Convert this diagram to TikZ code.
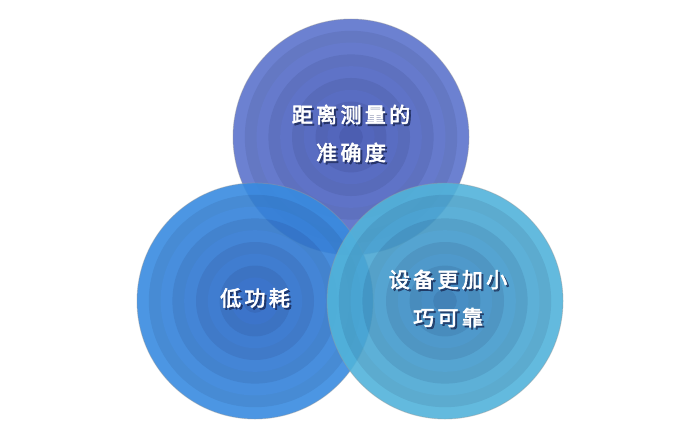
\documentclass[tikz,border=0pt]{standalone}
\usepackage{fontspec}
\newfontfamily\cjk{Noto Sans CJK SC}[LetterSpace=16, BoldFont=Noto Sans CJK SC, BoldFeatures={FakeBold=3}]
\usetikzlibrary{positioning}
\definecolor{topout}{HTML}{5C73CC}
\definecolor{topin}{HTML}{3C51B2}
\definecolor{leftout}{HTML}{388BE0}
\definecolor{leftin}{HTML}{2560C0}
\definecolor{rightout}{HTML}{52B3DA}
\definecolor{rightin}{HTML}{307BBA}
\definecolor{shade}{HTML}{14204A}
\tikzset{%
	disc/.style     = {circle, minimum size=236pt, inner sep=0pt}, % circle
	rim/.style      = {draw=black!40, draw opacity=0.4, line width=0.9pt},
	txt/.style      = {text=white, align=center, font=\cjk\bfseries\fontsize{21}{38}\selectfont},
	txtshadow/.style= {txt, text=shade, text opacity=0.6},
}
% rings of one disc: #1 node, #2 outer colour, #3 inner colour
\newcommand{\ringdisc}[3]{%
	\begin{scope}[transparency group, opacity=0.9]
	\foreach \k in {0,...,9}{
		\pgfmathsetmacro{\ro}{118-11.8*\k}
		\pgfmathtruncatemacro{\p}{11*\k}
		\pgfmathtruncatemacro{\d}{100-6*mod(\k,2)}
		\fill[fill=#3!\p!#2!\d!black] (#1.center) circle (\ro pt);
	}
	\end{scope}
	\draw[rim] (#1.center) circle (118pt);
}

\begin{document}
\begin{tikzpicture}[x=1pt, y=1pt]
	\useasboundingbox (0,0) rectangle (700,440);
	\node[disc] (acc) at (351,303) {};
	\node[disc] (pow) at (255,139) {};
	\node[disc] (size) at (445,139) {};

	\ringdisc{acc}{topout}{topin}
	\ringdisc{pow}{leftout}{leftin}
	\ringdisc{size}{rightout}{rightin}

	\node[txtshadow] (accsh) at (353,304.5) {距离测量的\\准确度};
	\node[txt] (acct) at (351,306.5) {距离测量的\\准确度};
	\node[txtshadow] (powsh) at (257,140) {低功耗};
	\node[txt] (powt) at (255,142) {低功耗};
	\node[txtshadow] (sizesh) at (450,139.5) {设备更加小\\巧可靠};
	\node[txt] (sizet) at (448,141.5) {设备更加小\\巧可靠};
\end{tikzpicture}
\end{document}
